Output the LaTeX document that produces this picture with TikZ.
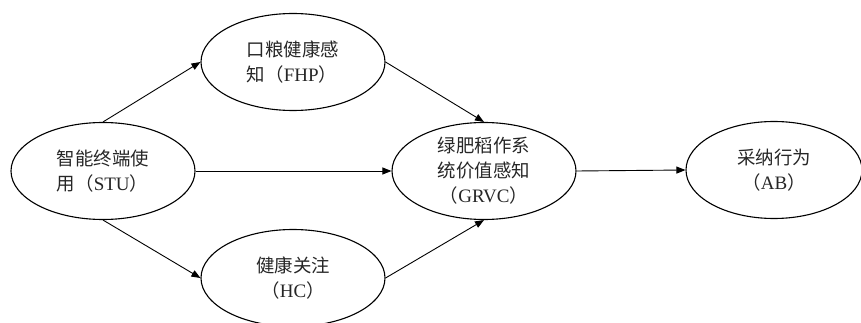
\documentclass[tikz,border=0pt]{standalone}
\usepackage{fontspec}
\setmainfont{Liberation Serif}
\newfontfamily\cjk{Noto Sans CJK SC}[Scale=0.97]
\usetikzlibrary{shapes.geometric,arrows.meta}
\tikzset{
  var/.style={ellipse, draw, line width=1.1pt, inner sep=0pt, minimum width=184pt, minimum height=97pt, font=\fontsize{19}{25}\selectfont, text=black!85},
  link/.style={line width=0.9pt, -{Triangle[length=9pt,width=7pt]}}
}
\begin{document}
\begin{tikzpicture}[x=1pt,y=-1pt]
\useasboundingbox (0,0) rectangle (861,323);
\node[var, align=left] (stu) at (103,171) {{\cjk 智能终端使}\\{\cjk 用（}STU{\cjk ）}};
\node[var, align=left] (fhp) at (293,62) {{\cjk 口粮健康感}\\{\cjk 知（}FHP{\cjk ）}};
\node[var, align=center] (grvc) at (484,171) {{\cjk 绿肥稻作系}\\{\cjk 统价值感知}\\{\cjk （}GRVC{\cjk ）}};
\node[var, align=center, minimum width=176pt] (ab) at (774,170) {{\cjk 采纳行为}\\{\cjk （}AB{\cjk ）}};
\node[var, align=center] (hc) at (293,278) {{\cjk 健康关注}\\{\cjk （}HC{\cjk ）}};
\draw[link] (stu.north) -- (fhp.west);
\draw[link] (stu.south) -- (hc.west);
\draw[link] (stu.east) -- (grvc.west);
\draw[link] (fhp.east) -- (grvc.north);
\draw[link] (hc.east) -- (grvc.south);
\draw[link] (grvc.east) -- (ab.west);
\end{tikzpicture}
\end{document}
